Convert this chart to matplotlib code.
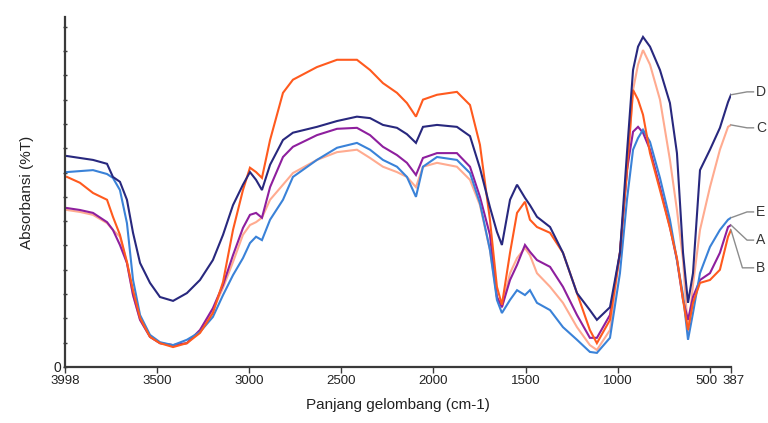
import matplotlib.pyplot as plt
import matplotlib.transforms as mtransforms
import numpy as np

# wavenumber grid (cm-1) the spectra were read at
wavenumber = [
    3987, 3917, 3846, 3770, 3738, 3700, 3662, 3629, 3591, 3537,
    3483, 3412, 3337, 3266, 3196, 3141, 3087, 3033, 2995, 2962,
    2930, 2886, 2816, 2762, 2632, 2523, 2415, 2344, 2274, 2198,
    2144, 2095, 2057, 1981, 1873, 1802, 1748, 1694, 1656, 1629,
    1585, 1547, 1504, 1477, 1439, 1368, 1298, 1222, 1152, 1114,
    1043, 989, 951, 918, 891, 864, 826, 772, 718, 680,
    647, 620, 593, 555, 501, 447, 403, 387,
]

sample_a = [
    32.7, 32.3, 31.7, 29.8, 28.2, 25.1, 21.4, 14.8, 9.7, 6.2,
    4.9, 4.5, 4.9, 7.6, 12.1, 16.9, 23.0, 28.6, 31.3, 31.7,
    30.7, 37.0, 43.2, 45.3, 47.7, 49.0, 49.2, 47.7, 45.3, 43.6,
    42.0, 39.5, 43.0, 44.0, 44.0, 41.2, 35.0, 27.2, 14.4, 12.3,
    17.9, 21.0, 25.1, 23.7, 22.0, 20.6, 16.5, 10.7, 6.0, 6.0,
    10.7, 23.5, 40.5, 48.4, 49.4, 48.2, 44.7, 37.0, 28.8, 22.0,
    13.8, 9.7, 14.4, 17.9, 19.3, 23.5, 28.8, 29.2,
]

sample_b = [
    39.1, 37.9, 35.8, 34.4, 30.9, 27.2, 21.6, 15.8, 10.1, 6.2,
    4.9, 4.1, 4.9, 7.0, 11.1, 17.5, 28.2, 36.4, 41.0, 40.1,
    38.9, 46.7, 56.4, 59.1, 61.7, 63.2, 63.2, 61.1, 58.4, 56.4,
    54.3, 51.5, 55.0, 56.0, 56.6, 53.9, 45.7, 30.3, 16.5, 12.8,
    23.5, 31.7, 34.0, 30.3, 28.8, 27.6, 23.5, 15.2, 7.6, 4.9,
    9.7, 23.5, 40.5, 57.0, 55.0, 51.9, 44.0, 36.4, 28.6, 22.4,
    13.8, 7.6, 13.2, 17.3, 17.9, 20.0, 26.8, 28.2,
]

sample_c = [
    32.3, 31.9, 31.3, 29.6, 28.2, 26.8, 21.4, 14.8, 9.7, 6.2,
    4.9, 4.5, 4.9, 7.6, 11.7, 16.3, 21.6, 27.2, 29.2, 29.8,
    30.7, 34.4, 37.5, 39.9, 42.6, 44.2, 44.7, 43.0, 41.2, 40.1,
    39.1, 37.0, 41.2, 42.0, 41.2, 38.5, 33.3, 24.1, 14.4, 12.3,
    19.3, 22.4, 24.5, 23.0, 19.3, 16.5, 13.2, 8.2, 4.5, 3.5,
    7.6, 23.5, 39.5, 57.0, 62.2, 65.2, 62.2, 55.0, 42.6, 32.3,
    22.0, 7.0, 16.9, 28.2, 37.0, 44.7, 49.4, 49.8,
]

sample_d = [
    43.4, 43.0, 42.6, 41.8, 39.1, 38.1, 34.4, 27.6, 21.4, 17.3,
    14.4, 13.6, 15.2, 17.9, 22.0, 27.2, 33.3, 37.5, 40.1, 38.5,
    36.4, 41.6, 46.7, 48.2, 49.4, 50.6, 51.5, 51.2, 49.8, 49.2,
    47.9, 46.1, 49.4, 49.8, 49.4, 47.5, 40.9, 32.9, 27.8, 25.1,
    34.4, 37.5, 34.8, 33.3, 30.9, 28.8, 23.5, 15.2, 11.7, 9.7,
    12.3, 23.5, 44.0, 61.1, 65.9, 67.9, 65.9, 61.1, 54.3, 44.0,
    23.5, 13.2, 19.3, 40.5, 44.7, 49.2, 54.5, 56.0,
]

sample_e = [
    40.1, 40.3, 40.5, 39.7, 38.9, 36.4, 29.6, 17.9, 10.7, 6.6,
    5.1, 4.5, 5.6, 7.2, 10.3, 14.8, 18.9, 22.4, 25.5, 26.8,
    26.1, 30.3, 34.4, 39.1, 42.6, 45.1, 46.1, 44.7, 42.6, 41.2,
    39.1, 35.0, 41.2, 43.2, 42.6, 39.9, 33.7, 24.1, 13.8, 11.1,
    13.8, 15.8, 14.8, 15.8, 13.2, 11.7, 8.2, 5.6, 3.1, 2.9,
    6.0, 19.3, 34.4, 44.7, 47.1, 48.8, 46.3, 38.9, 30.3, 22.0,
    14.8, 5.6, 11.1, 19.3, 24.7, 28.2, 30.3, 30.7,
]

labels = ["D", "C", "E", "A", "B"]
x_ticks = [3998, 3500, 3000, 2500, 2000, 1500, 1000, 500, 387]

SERIES_STYLE = {
    "A": (sample_a, "#8e1f9e"),
    "B": (sample_b, "#ff5a1e"),
    "C": (sample_c, "#ffab90"),
    "D": (sample_d, "#28287e"),
    "E": (sample_e, "#3a82d8"),
}

# label height (data units) and leader elbow (data x) for each callout
CALLOUT = {
    "D": (56.6, 300),
    "C": (49.2, 300),
    "E": (31.9, 300),
    "A": (26.1, 300),
    "B": (20.4, 325),
}


def plot_spectra():
    plt.rcParams["font.family"] = ["Liberation Sans", "DejaVu Sans"]
    fig = plt.figure(figsize=(7.68, 4.23), dpi=100)
    ax = fig.add_axes([0.0846, 0.1324, 0.8672, 0.8274])

    x = np.array(wavenumber)
    for name in ["C", "A", "E", "B", "D"]:
        y, color = SERIES_STYLE[name]
        ax.plot(x, y, color=color, lw=1.5, solid_joinstyle="miter")

    for name in labels:
        y, color = SERIES_STYLE[name]
        y_text, x_elbow = CALLOUT[name]
        ax.plot([387, x_elbow, 265], [y[-1], y_text, y_text],
                color="#8c8c8c", lw=1.0, clip_on=False)
        ax.text(252, y_text, name, ha="left", va="center",
                fontsize=10, color="#333333", clip_on=False)

    ax.set_xlim(3998, 387)
    ax.set_ylim(0, 72)
    ax.set_xticks(x_ticks)
    ax.set_xticklabels([str(t) for t in x_ticks])
    ax.set_yticks(np.arange(0, 71, 5))
    ax.set_yticklabels(["0"] + [""] * 14)

    for side in ["top", "right"]:
        ax.spines[side].set_visible(False)
    for side in ["left", "bottom"]:
        ax.spines[side].set_color("#3a3a3a")
        ax.spines[side].set_linewidth(1.6)
    ax.tick_params(axis="x", direction="out", length=4, width=1, colors="#3a3a3a",
                   labelsize=9.5, labelcolor="#222222", pad=2)
    ax.tick_params(axis="y", direction="inout", length=3, width=1, colors="#3a3a3a",
                   labelsize=10, labelcolor="#222222", pad=1)

    # nudge the two crowded labels at the right end apart
    tick_labels = ax.get_xticklabels()
    for lbl, dx in [(tick_labels[-2], -4), (tick_labels[-1], 3)]:
        shift = mtransforms.ScaledTranslation(dx / 100, 0, fig.dpi_scale_trans)
        lbl.set_transform(lbl.get_transform() + shift)

    ax.set_xlabel("Panjang gelombang (cm-1)", fontsize=11, color="#222222", labelpad=8)
    ax.set_ylabel("Absorbansi (%T)", fontsize=11, color="#222222", labelpad=14)

    fig.savefig("out.png", dpi=100)


def main():
    plot_spectra()


if __name__ == "__main__":
    main()
